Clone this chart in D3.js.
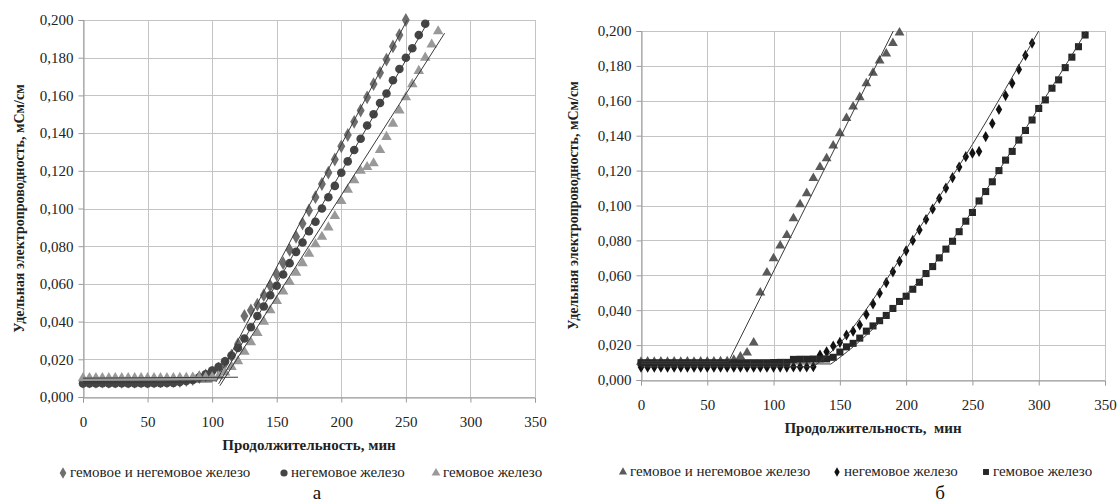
<!DOCTYPE html>
<html>
<head>
<meta charset="utf-8">
<script src="https://cdn.jsdelivr.net/npm/d3@7"></script>
<style>
  body { margin: 0; background: #fff; }
  .grid line { stroke: #c4c4c4; stroke-width: 1; }
  .axis path, .axis line { stroke: #9a9a9a; }
  .axis text { font-size: 15px; fill: #222; }
</style>
</head>
<body>
<svg id="chart" width="1118" height="504"></svg>
<script>
// time points, min
var minutes = [0,5,10,15,20,25,30,35,40,45,50,55,60,65,70,75,80,85,90,95,100,105,110,115,120,125,130,135,140,145,150,155,160,165,170,175,180,185,190,195,200,205,210,215,220,225,230,235,240,245,250,255,260,265,270,275,280,285,290,295,300,305,310,315,320,325,330,335];

var xTicks = [0, 50, 100, 150, 200, 250, 300, 350];
var yTicks = [0, 0.02, 0.04, 0.06, 0.08, 0.10, 0.12, 0.14, 0.16, 0.18, 0.20];

// panel а
var aBoth = [0.0081,0.0082,0.0081,0.0082,0.0081,0.0082,0.0081,0.0082,0.0081,0.0082,0.0082,0.0082,0.0083,0.0083,0.0084,0.0085,0.009,0.0095,0.0105,0.0115,0.013,0.015,0.018,0.022,0.028,0.043,0.046,0.049,0.054,0.059,0.065,0.071,0.078,0.085,0.092,0.099,0.106,0.113,0.119,0.126,0.133,0.139,0.146,0.152,0.159,0.166,0.172,0.179,0.186,0.192,0.200];
var aNonHeme = [0.0072,0.0072,0.0072,0.0073,0.0072,0.0072,0.0073,0.0072,0.0072,0.0073,0.0072,0.0073,0.0073,0.0074,0.0075,0.008,0.0085,0.009,0.0105,0.012,0.014,0.016,0.019,0.022,0.026,0.031,0.037,0.043,0.048,0.054,0.059,0.065,0.071,0.077,0.082,0.088,0.093,0.100,0.106,0.112,0.119,0.125,0.131,0.137,0.144,0.150,0.156,0.161,0.168,0.174,0.180,0.185,0.192,0.198];
var aHeme = [0.0100,0.0101,0.0100,0.0101,0.0100,0.0101,0.0100,0.0101,0.0100,0.0101,0.0100,0.0101,0.0100,0.0101,0.0101,0.0102,0.0102,0.0103,0.0103,0.0104,0.0105,0.011,0.013,0.016,0.019,0.024,0.029,0.034,0.040,0.046,0.051,0.056,0.061,0.066,0.071,0.076,0.081,0.085,0.090,0.096,0.104,0.110,0.115,0.120,0.122,0.124,0.131,0.138,0.145,0.152,0.159,0.166,0.173,0.180,0.187,0.194];

// trend lines of panel а: [start min, start value, end min, end value]
var aTrends = [
  [0, 0.0082, 103, 0.0086], [103, 0.0080, 251, 0.200],
  [0, 0.0074, 100, 0.0080], [105, 0.0070, 268, 0.200],
  [0, 0.0100, 120, 0.0105], [106, 0.0060, 280, 0.193]
];

// panel б
var bBoth = [0.0104,0.0105,0.0104,0.0105,0.0104,0.0105,0.0104,0.0105,0.0104,0.0105,0.0105,0.0105,0.0106,0.0107,0.0115,0.0134,0.0156,0.0214,0.050,0.0615,0.0697,0.077,0.083,0.0926,0.1006,0.107,0.1156,0.122,0.127,0.1343,0.1414,0.150,0.1566,0.162,0.170,0.176,0.183,0.187,0.193,0.199];
var bNonHeme = [0.0073,0.0073,0.0073,0.0073,0.0073,0.0073,0.0073,0.0073,0.0073,0.0073,0.0073,0.0073,0.0073,0.0073,0.0073,0.0073,0.0073,0.0073,0.0073,0.0073,0.0074,0.0074,0.0074,0.0075,0.0075,0.0075,0.0076,0.0143,0.0162,0.0195,0.0216,0.0258,0.028,0.0315,0.0376,0.0436,0.0497,0.0558,0.062,0.068,0.074,0.080,0.086,0.092,0.098,0.104,0.110,0.116,0.122,0.128,0.130,0.131,0.1395,0.147,0.155,0.163,0.170,0.178,0.186,0.193];
var bHeme = [0.0099,0.0099,0.0099,0.0099,0.0099,0.0099,0.0099,0.0099,0.0099,0.0099,0.0099,0.0099,0.0099,0.0099,0.0099,0.0099,0.0099,0.0099,0.0099,0.0099,0.0100,0.0101,0.0101,0.0118,0.0119,0.0119,0.0120,0.0120,0.0121,0.013,0.016,0.019,0.021,0.024,0.028,0.031,0.034,0.037,0.041,0.045,0.048,0.052,0.056,0.061,0.065,0.070,0.075,0.0795,0.085,0.091,0.096,0.1026,0.108,0.1136,0.120,0.126,0.131,0.1375,0.143,0.149,0.1556,0.1605,0.1672,0.172,0.179,0.185,0.191,0.1977];

var bFlatTrends = [
  [0, 0.0105, 66, 0.0105], [66, 0.0105, 190.3, 0.200],
  [0, 0.0075, 130, 0.0076],
  [0, 0.0094, 143, 0.0092]
];
var bNonHemeCurve = [[130,0.0076],[150,0.021],[175,0.046],[200,0.075],[225,0.105],[250,0.135],[275,0.167],[300,0.200]];
var bHemeCurve = [[143,0.0090],[160,0.019],[180,0.033],[200,0.049],[225,0.070],[250,0.097],[275,0.126],[300,0.156],[320,0.180],[336,0.200]];

var labelBoth = "гемовое и негемовое железо";
var labelNonHeme = "негемовое железо";
var labelHeme = "гемовое железо";
var yTitle = "Удельная электропроводность, мСм/см";

var serif = "Liberation Serif";
var svg = d3.select("#chart");
var fmt = function (d) { return d3.format(".3f")(d).replace(".", ","); };

function drawPanel(p) {
  var x = d3.scaleLinear().domain([0, 350]).range([p.left, p.right]);
  var y = d3.scaleLinear().domain([0, 0.2]).range([p.bottom, p.top]);
  var g = svg.append("g");

  var grid = g.append("g").attr("class", "grid");
  grid.selectAll(".h").data(yTicks).enter().append("line")
    .attr("x1", p.left).attr("x2", p.right)
    .attr("y1", function (d) { return Math.round(y(d)) + 0.5; })
    .attr("y2", function (d) { return Math.round(y(d)) + 0.5; });
  grid.selectAll(".v").data(xTicks).enter().append("line")
    .attr("y1", p.top).attr("y2", p.bottom)
    .attr("x1", function (d) { return Math.round(x(d)) + 0.5; })
    .attr("x2", function (d) { return Math.round(x(d)) + 0.5; });

  g.append("g").attr("class", "axis")
    .attr("transform", "translate(" + (Math.round(p.left) + 0.5) + ",0)")
    .call(d3.axisLeft(y).tickValues(yTicks).tickFormat(fmt).tickSize(5).tickPadding(5));
  g.append("g").attr("class", "axis")
    .attr("transform", "translate(0," + (Math.round(p.bottom) + 0.5) + ")")
    .call(d3.axisBottom(x).tickValues(xTicks).tickSize(5).tickPadding(p.xPad));
  g.selectAll(".axis").attr("font-family", serif);
  g.selectAll(".axis .domain").attr("stroke", "#9a9a9a");

  // markers
  p.series.forEach(function (s) {
    g.append("g").selectAll("path").data(s.values).enter().append("path")
      .attr("transform", function (d, i) { return "translate(" + x(minutes[i]) + "," + y(d) + ")"; })
      .attr("d", d3.symbol().type(s.symbol).size(s.size))
      .attr("fill", s.color);
  });

  // trend lines
  var line = d3.line().x(function (d) { return x(d[0]); }).y(function (d) { return y(d[1]); });
  p.trends.forEach(function (t) {
    g.append("path").attr("d", line([[t[0], t[1]], [t[2], t[3]]]))
      .attr("fill", "none").attr("stroke", "#3a3a3a").attr("stroke-width", 1);
  });
  (p.curves || []).forEach(function (c) {
    g.append("path").attr("d", line.curve(d3.curveMonotoneX)(c))
      .attr("fill", "none").attr("stroke", "#3a3a3a").attr("stroke-width", 1);
  });

  // titles
  g.append("text")
    .attr("transform", "translate(" + p.yTitleX + "," + ((p.top + p.bottom) / 2) + ") rotate(-90)")
    .attr("text-anchor", "middle").attr("dominant-baseline", "central")
    .attr("font-family", serif)
    .attr("font-size", 14).attr("font-weight", "bold").attr("fill", "#222")
    .text(yTitle);
  g.append("text")
    .attr("x", (p.left + p.right) / 2).attr("y", p.xTitleY)
    .attr("text-anchor", "middle").attr("font-family", serif)
    .attr("font-size", 15).attr("font-weight", "bold").attr("fill", "#222")
    .style("white-space", "pre")
    .text(p.xTitle);

  // legend
  p.series.forEach(function (s, i) {
    var lx = p.legendX[i];
    g.append("path")
      .attr("transform", "translate(" + lx + "," + (p.legendY - 4) + ")")
      .attr("d", d3.symbol().type(s.symbol).size(s.size * 0.7))
      .attr("fill", s.color);
    g.append("text").attr("x", lx + 7).attr("y", p.legendY)
      .attr("font-family", serif)
      .attr("font-size", 15).attr("fill", "#222").text(s.label);
  });

  g.append("text").attr("x", p.capX).attr("y", p.capY)
    .attr("text-anchor", "middle").attr("font-family", serif)
    .attr("font-size", 19).attr("fill", "#111").text(p.caption);
}

drawPanel({
  left: 83, right: 535, top: 20, bottom: 397, xPad: 14,
  yTitleX: 19, xTitleY: 450, xTitle: "Продолжительность, мин",
  legendX: [63, 284, 436], legendY: 477,
  capX: 317, capY: 499, caption: "а",
  series: [
    { values: aBoth, symbol: d3.symbolDiamond, size: 55, color: "#6e6e6e", label: labelBoth },
    { values: aNonHeme, symbol: d3.symbolCircle, size: 58, color: "#454545", label: labelNonHeme },
    { values: aHeme, symbol: d3.symbolTriangle, size: 48, color: "#999999", label: labelHeme }
  ],
  trends: aTrends
});

drawPanel({
  left: 641, right: 1105, top: 31, bottom: 380, xPad: 14,
  yTitleX: 573, xTitleY: 433, xTitle: "Продолжительность,  мин",
  legendX: [623, 837, 986], legendY: 476,
  capX: 940, capY: 499, caption: "б",
  series: [
    { values: bBoth, symbol: d3.symbolTriangle, size: 42, color: "#5a5a5a", label: labelBoth },
    { values: bNonHeme, symbol: d3.symbolDiamond, size: 36, color: "#111111", label: labelNonHeme },
    { values: bHeme, symbol: d3.symbolSquare, size: 50, color: "#262626", label: labelHeme }
  ],
  trends: bFlatTrends,
  curves: [bNonHemeCurve, bHemeCurve]
});
</script>
</body>
</html>
